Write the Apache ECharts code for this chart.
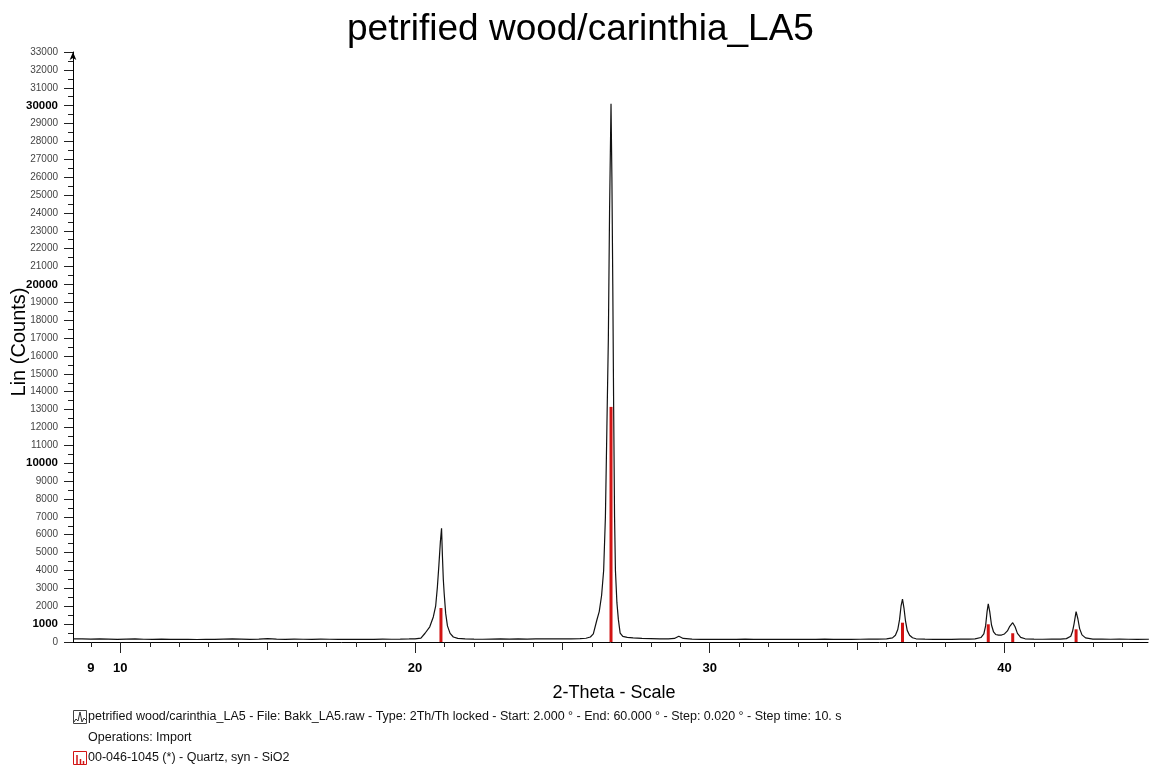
<!DOCTYPE html>
<html><head><meta charset="utf-8">
<script src="https://cdn.jsdelivr.net/npm/echarts@6/dist/echarts.min.js"></script>
<style>html,body{margin:0;padding:0;background:#fff}#c{width:1149px;height:772px}</style>
</head><body><div id="c"></div><script>
// ---- data ----
const titleText = 'petrified wood/carinthia_LA5';
const xAxisName = '2-Theta - Scale';
const yAxisName = 'Lin (Counts)';
const legendLine1 = 'petrified wood/carinthia_LA5 - File: Bakk_LA5.raw - Type: 2Th/Th locked - Start: 2.000 \u00b0 - End: 60.000 \u00b0 - Step: 0.020 \u00b0 - Step time: 10. s';
const legendLine2 = 'Operations: Import';
const legendLine3 = '00-046-1045 (*) - Quartz, syn - SiO2';

const patternTheta = [8.4,8.7,9.0,9.3,9.6,9.9,10.2,10.5,10.8,11.1,11.4,11.7,12.0,12.3,12.6,12.9,13.2,13.5,13.8,14.1,14.4,14.7,15.0,15.3,15.6,15.9,16.2,16.5,16.8,17.1,17.4,17.7,18.0,18.3,18.6,18.9,19.2,19.5,19.8,20.0,20.2,20.34,20.5,20.62,20.7,20.76,20.81,20.86,20.9,20.93,20.96,20.99,21.04,21.1,21.19,21.3,21.45,21.7,22.0,22.3,22.6,22.9,23.2,23.5,23.8,24.1,24.4,24.7,25.0,25.3,25.6,25.8,25.95,26.05,26.17,26.25,26.33,26.4,26.46,26.51,26.56,26.6,26.65,26.68,26.71,26.74,26.77,26.8,26.85,26.9,26.96,27.05,27.2,27.4,27.7,28.0,28.3,28.6,28.8,28.95,29.1,29.4,29.7,30.0,30.3,30.6,30.9,31.2,31.5,31.8,32.1,32.4,32.7,33.0,33.3,33.6,33.9,34.2,34.5,34.8,35.1,35.4,35.7,36.0,36.2,36.3,36.38,36.44,36.49,36.54,36.59,36.64,36.7,36.78,36.88,37.0,37.3,37.6,37.9,38.2,38.5,38.8,39.0,39.2,39.3,39.36,39.41,39.45,39.5,39.56,39.63,39.7,39.8,39.9,40.0,40.1,40.18,40.28,40.36,40.44,40.55,40.7,41.0,41.3,41.6,41.9,42.1,42.25,42.31,42.36,42.43,42.49,42.55,42.63,42.75,43.0,43.3,43.6,43.9,44.2,44.5,44.9];
const patternCounts = [180,170,160,175,165,150,160,170,155,150,160,145,150,155,140,150,145,165,170,160,150,165,190,160,150,160,155,150,160,155,145,150,150,155,150,160,155,160,170,180,220,490,850,1400,2000,3100,4300,5600,6360,4800,3500,2700,1600,900,480,280,200,170,160,155,165,170,160,170,165,175,170,180,175,180,190,210,280,450,1230,1700,2600,4000,7000,12000,17000,24000,30100,26000,20000,13000,7000,4000,2200,1250,500,310,260,230,200,185,170,175,200,320,200,160,150,155,150,145,150,160,150,150,155,145,150,155,150,150,160,150,155,150,155,160,165,180,230,380,700,1250,2000,2400,1900,1200,650,380,240,180,160,150,155,150,160,165,175,250,450,900,1700,2130,1700,950,560,420,380,390,450,620,880,1080,850,480,260,180,160,155,160,165,190,320,600,1000,1700,1300,750,400,230,165,160,155,160,155,150,155];

const stickTheta  = [20.88, 26.65, 36.54, 39.45, 40.28, 42.43];
const stickCounts = [1900, 13150, 1080, 990, 490, 710];

const xLabelValues = [9, 10, 20, 30, 40];
const xMajorTicks = [10, 20, 30, 40];
const xMidTicks = [15, 25, 35];
const xMinorTicks = [9,10,11,12,13,14,15,16,17,18,19,20,21,22,23,24,25,26,27,28,29,30,31,32,33,34,35,36,37,38,39,40,41,42,43,44];
const yBoldValues = [1000, 10000, 20000, 30000];
const X_MIN = 8.395, X_MAX = 44.87;
const Y_MIN = 0, Y_MAX = 33000, Y_STEP = 1000;

// ---- chart ----
const FONT = '"Liberation Sans", Arial, sans-serif';
const chart = echarts.init(document.getElementById('c'));
const pattern = patternTheta.map((t, i) => [t, patternCounts[i]]);
const sticks = stickTheta.map((t, i) => [t, stickCounts[i]]);

const baseX = {type: 'value', min: X_MIN, max: X_MAX, gridIndex: 0, position: 'bottom', offset: 0, splitLine: {show: false}};

chart.setOption({
  animation: false,
  backgroundColor: '#fff',
  title: {text: titleText, left: 342, top: 6, textStyle: {fontFamily: FONT, fontSize: 37, fontWeight: 'normal', color: '#000'}},
  grid: {left: 73, right: 1, top: 52, bottom: 130},
  xAxis: [
    Object.assign({}, baseX, {axisLine: {show: true, lineStyle: {color: '#000', width: 1}},
      axisTick: {show: true, customValues: xMinorTicks, length: 5, lineStyle: {color: '#222'}},
      axisLabel: {show: false}}),
    Object.assign({}, baseX, {axisLine: {show: false},
      axisTick: {show: true, customValues: xMidTicks, length: 8, lineStyle: {color: '#222'}},
      axisLabel: {show: false}}),
    Object.assign({}, baseX, {axisLine: {show: false},
      axisTick: {show: true, customValues: xMajorTicks, length: 11, lineStyle: {color: '#222'}},
      axisLabel: {show: true, customValues: xLabelValues, margin: 20, fontFamily: FONT, fontSize: 13, fontWeight: 'bold', color: '#000'}})
  ],
  yAxis: {
    type: 'value', min: Y_MIN, max: Y_MAX, interval: Y_STEP,
    axisLine: {show: true, symbol: ['none', 'arrow'], symbolSize: [5, 8], lineStyle: {color: '#000', width: 1}},
    axisTick: {show: true, length: 9, lineStyle: {color: '#222'}},
    minorTick: {show: true, splitNumber: 2, length: 5, lineStyle: {color: '#222'}},
    splitLine: {show: false},
    axisLabel: {
      margin: 15,
      formatter: v => (yBoldValues.indexOf(v) >= 0 ? '{b|' + v + '}' : '{n|' + v + '}'),
      rich: {
        b: {fontFamily: FONT, fontSize: 11.5, fontWeight: 'bold', color: '#000'},
        n: {fontFamily: FONT, fontSize: 10, color: '#444'}
      }
    }
  },
  series: [
    {type: 'line', data: pattern, xAxisIndex: 0, symbol: 'none', showSymbol: false,
     lineStyle: {color: '#111', width: 1.2}, z: 2},
    {type: 'bar', data: sticks, xAxisIndex: 0, barWidth: 3, itemStyle: {color: '#d21414'}, z: 3}
  ],
  graphic: [
    {type: 'text', x: 614, y: 693, style: {text: xAxisName, font: '18px ' + FONT, fill: '#000', textAlign: 'center', textVerticalAlign: 'middle'}},
    {type: 'text', x: 19, y: 342, rotation: Math.PI / 2, style: {text: yAxisName, font: '20px ' + FONT, fill: '#000', textAlign: 'center', textVerticalAlign: 'middle'}},
    {type: 'rect', shape: {x: 73.5, y: 710.5, width: 13, height: 13}, style: {fill: 'none', stroke: '#444', lineWidth: 1}},
    {type: 'polyline', shape: {points: [[74, 722], [76, 719], [78, 721], [80, 712], [82, 722], [84, 718], [86, 720]]}, style: {fill: 'none', stroke: '#333', lineWidth: 1}},
    {type: 'text', x: 88, y: 717, style: {text: legendLine1, font: '12.5px ' + FONT, fill: '#111', textAlign: 'left', textVerticalAlign: 'middle'}},
    {type: 'text', x: 88, y: 738, style: {text: legendLine2, font: '12.5px ' + FONT, fill: '#111', textAlign: 'left', textVerticalAlign: 'middle'}},
    {type: 'rect', shape: {x: 73.5, y: 751.5, width: 13, height: 13}, style: {fill: 'none', stroke: '#d21414', lineWidth: 1}},
    {type: 'line', shape: {x1: 77, y1: 764, x2: 77, y2: 755}, style: {stroke: '#d21414', lineWidth: 1.5}},
    {type: 'line', shape: {x1: 80.5, y1: 764, x2: 80.5, y2: 759}, style: {stroke: '#d21414', lineWidth: 1.5}},
    {type: 'line', shape: {x1: 83.5, y1: 764, x2: 83.5, y2: 761}, style: {stroke: '#d21414', lineWidth: 1.5}},
    {type: 'text', x: 88, y: 758, style: {text: legendLine3, font: '12.5px ' + FONT, fill: '#111', textAlign: 'left', textVerticalAlign: 'middle'}}
  ]
});
</script></body></html>
